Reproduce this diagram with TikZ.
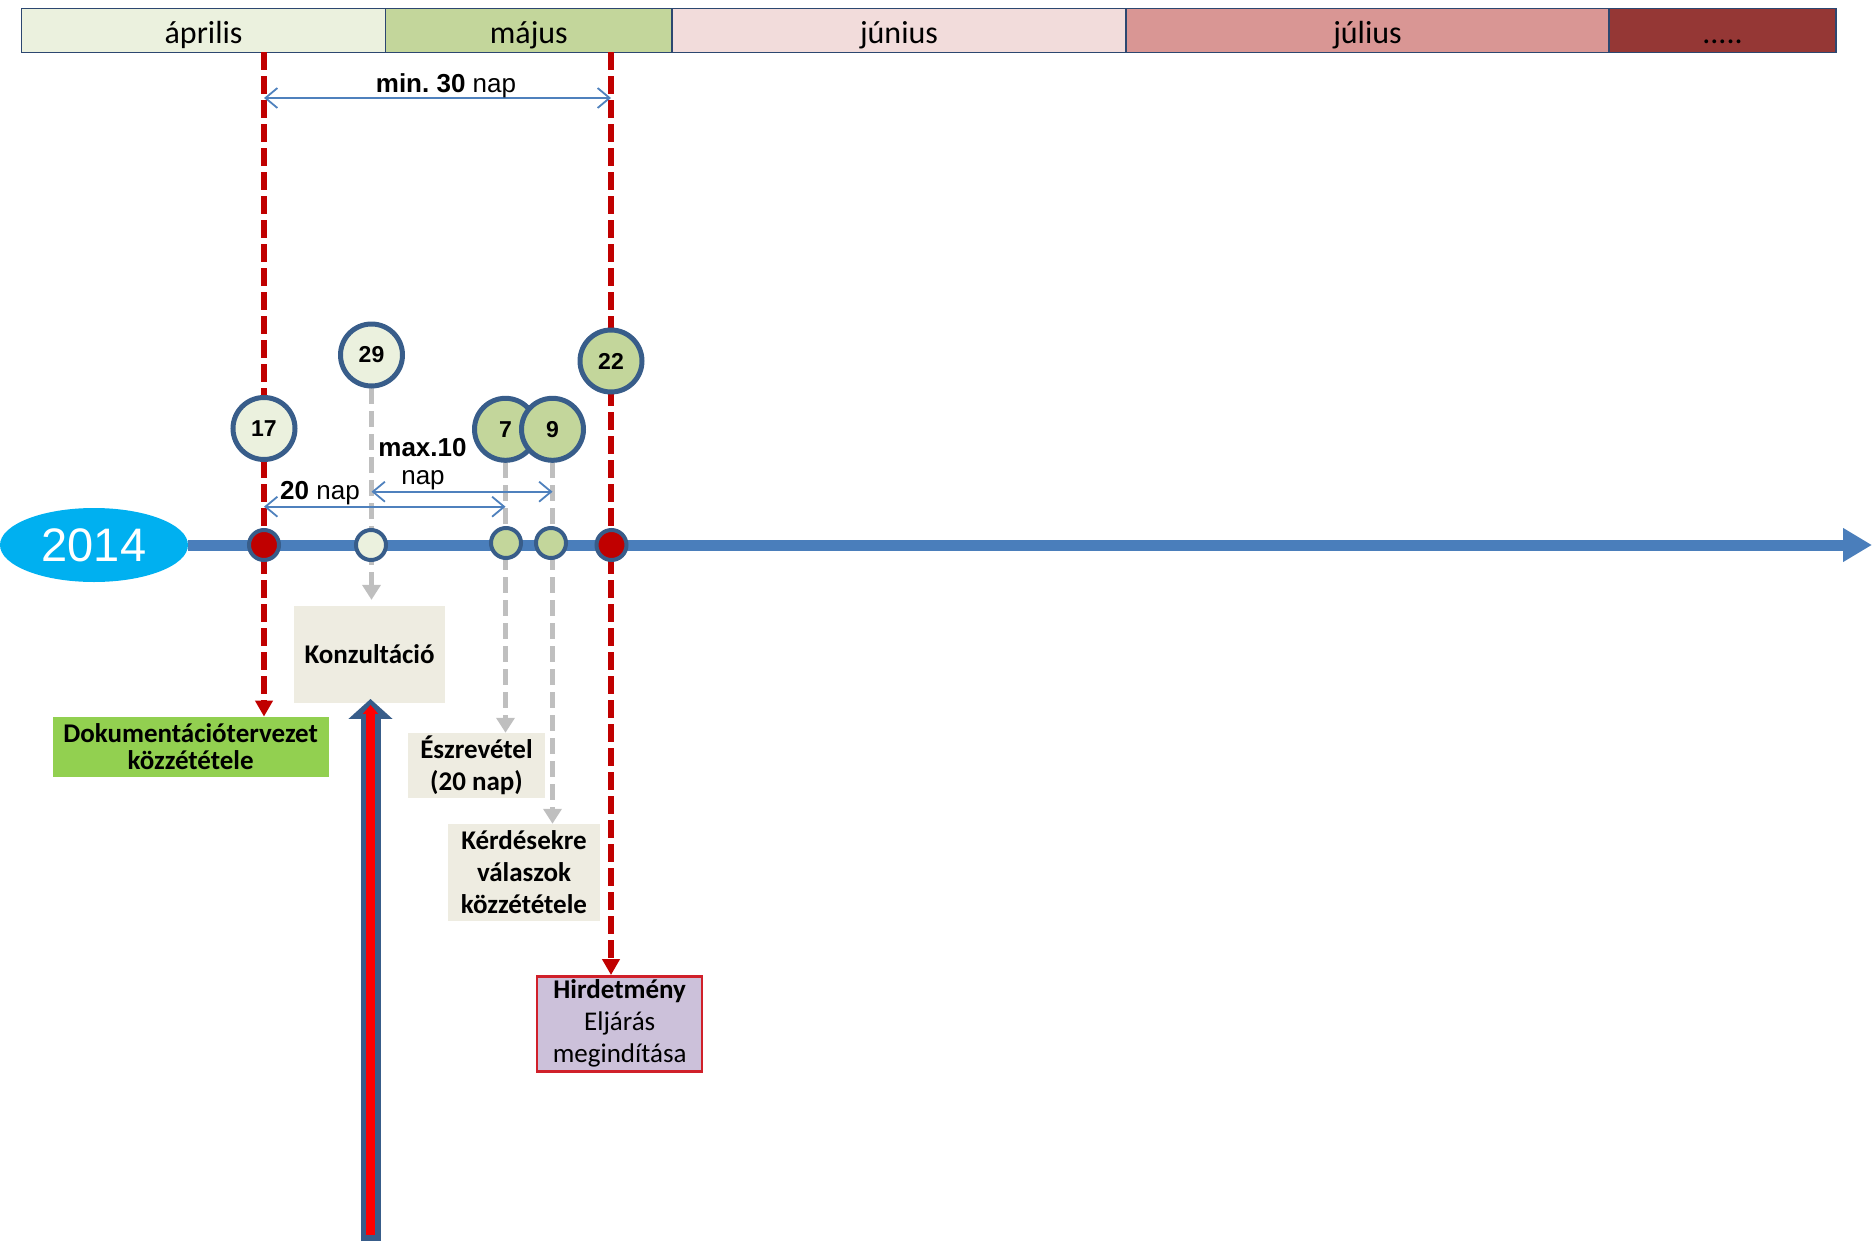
\documentclass[tikz,border=0pt]{standalone}
\usepackage{fontspec}
\setmainfont{Carlito}
\newfontfamily\arialf{Liberation Sans}
\usetikzlibrary{arrows.meta,shapes.geometric,calc}
\definecolor{aprc}{HTML}{EBF1DE}
\definecolor{majc}{HTML}{C3D69B}
\definecolor{junc}{HTML}{F2DCDB}
\definecolor{julc}{HTML}{D99694}
\definecolor{augc}{HTML}{953735}
\definecolor{barline}{HTML}{2C4770}
\definecolor{tlblue}{HTML}{4A7EBB}
\definecolor{ringblue}{HTML}{385D8A}
\definecolor{darkred}{HTML}{C00000}
\definecolor{dashgray}{HTML}{BFBFBF}
\definecolor{dimblue}{HTML}{4F81BD}
\definecolor{cyanell}{HTML}{00B0F0}
\definecolor{boxbeige}{HTML}{EEECE1}
\definecolor{boxgreen}{HTML}{92D050}
\definecolor{boxlilac}{HTML}{CCC1DA}
\definecolor{hirdred}{HTML}{D0202A}
\definecolor{brightred}{HTML}{FF0000}
\frenchspacing
\begin{document}
\begin{tikzpicture}[x=1pt,y=-1pt,
 month/.style={draw=barline,line width=1.5pt,anchor=north west,minimum height=44pt,inner sep=0pt,outer sep=0pt,text height=26pt,text depth=0pt,font=\fontsize{32}{36}\selectfont},
 bigc/.style={circle,draw=ringblue,line width=5pt,minimum size=62pt,inner sep=0pt,font=\arialf\bfseries\fontsize{23}{26}\selectfont},
 smallc/.style={circle,draw=ringblue,line width=4pt,minimum size=30pt,inner sep=0pt},
 reddash/.style={draw=darkred,line width=6pt,dash pattern=on 17.5pt off 6.5pt,-{Triangle[length=16pt,width=17pt]}},
 graydash/.style={draw=dashgray,line width=5pt,dash pattern=on 16pt off 7pt,-{Triangle[length=15pt,width=18pt]}},
 dimarrow/.style={draw=dimblue,line width=1.8pt,{Straight Barb[length=12pt,width=20pt,line width=1.8pt]}-{Straight Barb[length=12pt,width=20pt,line width=1.8pt]}},
 dimlabel/.style={font=\arialf\fontsize{26}{30}\selectfont,inner sep=0pt},
 infobox/.style={fill=boxbeige,inner sep=0pt,align=center,font=\bfseries\fontsize{27}{32}\selectfont},
]
\useasboundingbox (0,0) rectangle (1872,1242);
% month bar
\node[month,fill=aprc,minimum width=364.1pt] (apr) at (21.5,8.4) {április};
\node[month,fill=majc,minimum width=286.4pt] (maj) at (385.6,8.4) {május};
\node[month,fill=junc,minimum width=454pt] (jun) at (672,8.4) {június};
\node[month,fill=julc,minimum width=483pt] (jul) at (1126,8.4) {július};
\node[month,fill=augc,minimum width=227pt] (aug) at (1609,8.4) {.....};
% boxes
\node[infobox,minimum width=151pt,minimum height=96.7pt] (konz) at (369.5,654.4) {Konzultáció};
\node[infobox,fill=boxgreen,minimum width=276pt,minimum height=60pt,font=\bfseries\fontsize{27}{27.5}\selectfont] (doku) at (190.7,746.8) {Dokumentációtervezet\\közzététele};
\node[infobox,minimum width=137pt,minimum height=64.7pt] (esz) at (476.5,765.3) {Észrevétel\\(20 nap)};
\node[infobox,minimum width=152pt,minimum height=96.7pt] (kerd) at (524,872.3) {Kérdésekre\\válaszok\\közzététele};
\node[infobox,fill=boxlilac,draw=hirdred,line width=2.5pt,minimum width=165pt,minimum height=95pt,font=\fontsize{27}{32}\selectfont] (hird) at (619.7,1023.8) {\textbf{Hirdetmény}\\Eljárás\\megindítása};
% year ellipse
\node[ellipse,fill=cyanell,minimum width=188pt,minimum height=74pt,inner sep=0pt,text=white,font=\arialf\fontsize{47}{50}\selectfont] (yr) at (94,545) {2014};
% circle positions
\coordinate (p17) at (264,428.5);
\coordinate (p29) at (371.5,355);
\coordinate (p7) at (505.5,429.3);
\coordinate (p9) at (552.5,429.3);
\coordinate (p22) at (611,361);
% dashed connectors
\draw[reddash] (p17 |- apr.south) -- (p17 |- doku.north);
\draw[reddash] (p22 |- maj.south) -- (p22 |- hird.north);
\draw[graydash] ($(p29)+(0,33)$) -- ($(p29 |- konz.north)+(0,-6)$);
\draw[graydash] ($(p7)+(0,33)$) -- (p7 |- esz.north);
\draw[graydash] ($(p9)+(0,33)$) -- (p9 |- kerd.north);
% timeline
\coordinate (tlend) at (1872,545);
\draw[tlblue,line width=11pt,-{Triangle[length=29pt,width=32pt]}] (yr.east) -- (tlend);
% markers
\node[smallc,fill=darkred] (m17) at (264,545) {};
\node[smallc,fill=aprc] (m29) at (371,545) {};
\node[smallc,fill=majc] (m7) at (506,543) {};
\node[smallc,fill=majc] (m9) at (551,543) {};
\node[smallc,fill=darkred] (m22) at (611.5,545) {};
% big circles
\node[bigc,fill=aprc] (c17) at (p17) {17};
\node[bigc,fill=aprc] (c29) at (p29) {29};
\node[bigc,fill=majc] (c7) at (p7) {7};
\node[bigc,fill=majc] (c9) at (p9) {9};
\node[bigc,fill=majc] (c22) at (p22) {22};
% dimension arrows
\coordinate (ymin) at (0,98);
\coordinate (y20) at (0,506.7);
\coordinate (ymax) at (0,491.7);
\draw[dimarrow] (c17 |- ymin) -- (c22 |- ymin);
\draw[dimarrow] (c17 |- y20) -- (c7 |- y20);
\draw[dimarrow] (c29 |- ymax) -- (c9 |- ymax);
\node[dimlabel] (lmin) at (446,86) {\textbf{min. 30} nap};
\node[dimlabel] (l20) at (320,493) {\textbf{20} nap};
\node[dimlabel] (lmax) at (422.5,448) {\textbf{max.10}};
\node[dimlabel] (lnap) at (423,480) {nap};
% big upward arrow
\coordinate (upfoot) at (370.5,1241);
\coordinate (uptip) at ($(upfoot |- konz.south)+(0,-4)$);
\draw[ringblue,line width=20pt,-{Triangle[length=20pt,width=43pt]}] (upfoot) -- (uptip);
\draw[brightred,line width=9pt,-{Triangle[length=9pt,width=15pt]}] ($(upfoot)+(0,-6)$) -- ($(uptip)+(0,6)$);
\end{tikzpicture}
\end{document}
